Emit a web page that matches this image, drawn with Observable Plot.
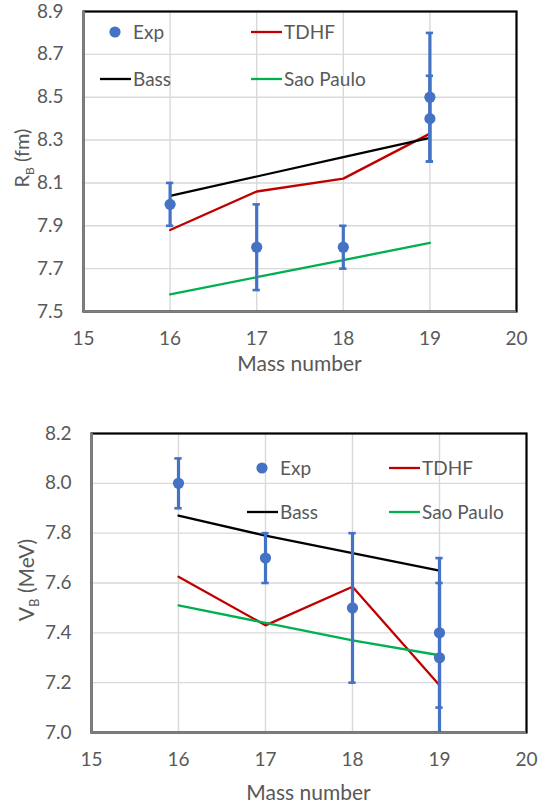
<!DOCTYPE html>
<html>
<head>
<meta charset="utf-8">
<script src="https://cdn.jsdelivr.net/npm/d3@7"></script>
<script src="https://cdn.jsdelivr.net/npm/@observablehq/plot@0.6"></script>
<style>
  html, body { margin: 0; padding: 0; background: #fff; }
  #chart { width: 553px; height: 807px; }
  #chart svg { display: block; }
</style>
</head>
<body>
<div id="chart"></div>
<script>
// Mass numbers of the projectiles and axis ticks
const massNumbers = [16, 17, 18, 19];
const massTicks = [15, 16, 17, 18, 19, 20];

// Barrier radius R_B (fm)
const rbTicks = [7.5, 7.7, 7.9, 8.1, 8.3, 8.5, 8.7, 8.9];
const rbTdhf = [7.88, 8.06, 8.12, 8.33];
const rbBass = [8.04, 8.13, 8.22, 8.31];
const rbSaoPaulo = [7.58, 7.66, 7.74, 7.82];
const rbExpMass = [16, 17, 18, 19, 19];
const rbExp = [8.0, 7.8, 7.8, 8.5, 8.4];
const rbExpErr = [0.1, 0.2, 0.1, 0.3, 0.2];

// Barrier height V_B (MeV)
const vbTicks = [7.0, 7.2, 7.4, 7.6, 7.8, 8.0, 8.2];
const vbTdhf = [7.625, 7.43, 7.585, 7.19];
const vbBass = [7.87, 7.79, 7.72, 7.65];
const vbSaoPaulo = [7.51, 7.44, 7.37, 7.31];
const vbExpMass = [16, 17, 18, 19, 19];
const vbExp = [8.0, 7.7, 7.5, 7.4, 7.3];
const vbExpErr = [0.1, 0.1, 0.3, 0.3, 0.3];

// Series names and colours (legend order: Exp, TDHF / Bass, Sao Paulo)
const seriesNames = ["Exp", "TDHF", "Bass", "Sao Paulo"];
const seriesColors = ["#4472C4", "#C00000", "#000000", "#00B050"];

const TEXT = "#595959";
const FONT = "Lato, 'Open Sans', sans-serif";

function drawPanel(cfg) {
  const expData = cfg.expMass.map((m, i) => ({
    mass: m, value: cfg.exp[i], lo: cfg.exp[i] - cfg.expErr[i], hi: cfg.exp[i] + cfg.expErr[i]
  }));
  const lineData = [];
  cfg.lines.forEach((vals, s) => {
    vals.forEach((v, i) => lineData.push({ series: seriesNames[s + 1], mass: massNumbers[i], value: v }));
  });
  const capHalf = 0.042;
  const [xmin] = d3.extent(massTicks);
  const [ymin] = d3.extent(cfg.yTicks);

  const svg = Plot.plot({
    width: 553,
    height: cfg.height,
    marginTop: cfg.margin[0],
    marginRight: cfg.margin[1],
    marginBottom: cfg.margin[2],
    marginLeft: cfg.margin[3],
    style: { fontFamily: FONT, fontSize: "19px", color: TEXT, background: "white", overflow: "visible" },
    x: { domain: d3.extent(massTicks), ticks: massTicks, tickFormat: "d", tickSize: 0, tickPadding: 20, label: null },
    y: { domain: d3.extent(cfg.yTicks), ticks: cfg.yTicks, tickFormat: ".1f", tickSize: 0, tickPadding: 20, label: null },
    color: { domain: seriesNames, range: seriesColors },
    marks: [
      Plot.gridX(massTicks, { stroke: "#D9D9D9", strokeOpacity: 1, strokeWidth: 1.4 }),
      Plot.gridY(cfg.yTicks, { stroke: "#D9D9D9", strokeOpacity: 1, strokeWidth: 1.4 }),
      Plot.frame({ stroke: "#000", strokeWidth: 2.2 }),
      Plot.ruleX([xmin], { stroke: "#7F7F7F", strokeWidth: 2.6 }),
      Plot.ruleY([ymin], { stroke: "#7F7F7F", strokeWidth: 2.6 }),
      Plot.line(lineData, { x: "mass", y: "value", z: "series", stroke: "series", strokeWidth: 2.3, clip: true }),
      Plot.ruleX(expData, { x: "mass", y1: "lo", y2: "hi", stroke: seriesColors[0], strokeWidth: 3.2, clip: true }),
      Plot.ruleY(expData, { y: "hi", x1: d => d.mass - capHalf, x2: d => d.mass + capHalf, stroke: seriesColors[0], strokeWidth: 2.6, clip: true }),
      Plot.ruleY(expData, { y: "lo", x1: d => d.mass - capHalf, x2: d => d.mass + capHalf, stroke: seriesColors[0], strokeWidth: 2.6, clip: true }),
      Plot.dot(expData, { x: "mass", y: "value", r: 5.6, fill: seriesColors[0], stroke: "none" })
    ]
  });

  const g = d3.select(svg);
  const plotLeft = cfg.margin[3], plotRight = 553 - cfg.margin[1];
  const plotBottom = cfg.height - cfg.margin[2];

  // x-axis title
  g.append("text")
    .attr("x", (plotLeft + plotRight) / 2)
    .attr("y", plotBottom + cfg.xTitleOffset)
    .attr("text-anchor", "middle")
    .attr("fill", TEXT)
    .style("font-family", FONT)
    .style("font-size", "21px")
    .text("Mass number");

  // y-axis title with subscript
  const yt = g.append("text")
    .attr("transform", `translate(${cfg.yTitlePos[0]},${cfg.yTitlePos[1]}) rotate(-90)`)
    .attr("text-anchor", "middle")
    .attr("fill", TEXT)
    .style("font-family", FONT)
    .style("font-size", `${cfg.yTitleSize}px`);
  yt.append("tspan").text(cfg.yTitle[0]);
  yt.append("tspan").attr("dy", 5).style("font-size", `${Math.round(cfg.yTitleSize * 0.62)}px`).text(cfg.yTitle[1]);
  yt.append("tspan").attr("dy", -5).text(" " + cfg.yTitle[2]);

  // legend: two columns, two rows
  const lg = g.append("g")
    .attr("text-anchor", "start")
    .style("font-family", FONT)
    .style("font-size", "19px");
  seriesNames.forEach((name, i) => {
    const x0 = cfg.legend.cols[i % 2];
    const y0 = cfg.legend.rows[Math.floor(i / 2)];
    if (i === 0) {
      lg.append("circle").attr("cx", x0 + 15).attr("cy", y0).attr("r", 5.6).attr("fill", seriesColors[i]);
    } else {
      lg.append("line").attr("x1", x0).attr("x2", x0 + 31).attr("y1", y0).attr("y2", y0)
        .attr("stroke", seriesColors[i]).attr("stroke-width", 2.3);
    }
    lg.append("text").attr("x", x0 + 33).attr("y", y0).attr("dy", "0.35em")
      .attr("text-anchor", "start").attr("fill", TEXT).text(name);
  });
  return svg;
}

const chart = document.getElementById("chart");

chart.appendChild(drawPanel({
  height: 400,
  margin: [11, 37, 89, 83],
  yTicks: rbTicks,
  lines: [rbTdhf, rbBass, rbSaoPaulo],
  expMass: rbExpMass, exp: rbExp, expErr: rbExpErr,
  yTitle: ["R", "B", "(fm)"],
  yTitleSize: 20,
  yTitlePos: [29, 158],
  xTitleOffset: 60,
  legend: { cols: [100, 251], rows: [32, 79] }
}));

chart.appendChild(drawPanel({
  height: 407,
  margin: [33, 27, 75, 91],
  yTicks: vbTicks,
  lines: [vbTdhf, vbBass, vbSaoPaulo],
  expMass: vbExpMass, exp: vbExp, expErr: vbExpErr,
  yTitle: ["V", "B", "(MeV)"],
  yTitleSize: 21,
  yTitlePos: [34, 180],
  xTitleOffset: 68,
  legend: { cols: [247, 389], rows: [68, 112] }
}));
</script>
</body>
</html>
